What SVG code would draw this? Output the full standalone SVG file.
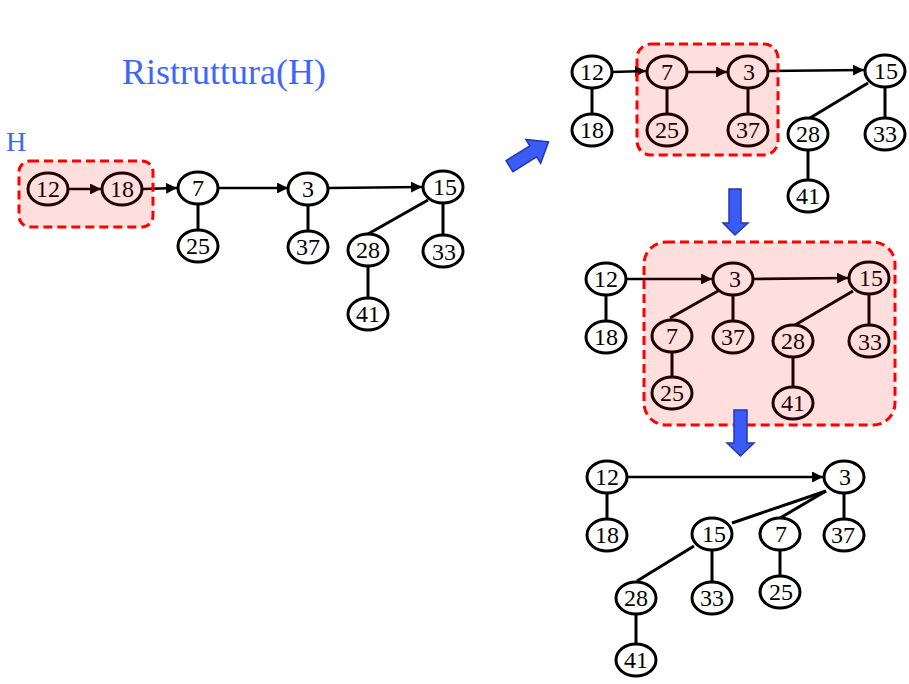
<svg xmlns="http://www.w3.org/2000/svg" width="909" height="684" viewBox="0 0 909 684">
<defs>
<style>
.n ellipse{fill:#fff;stroke:#000;stroke-width:3}
.n text{font-family:"Liberation Serif","Times New Roman",serif;font-size:24px;text-anchor:middle;fill:#000}
.e{stroke:#000;stroke-width:3;fill:none}
.a{stroke:#000;stroke-width:2.6;fill:none;marker-end:url(#ah)}
.box{fill:#ff0000;fill-opacity:0.13;stroke:#ff0000;stroke-width:3;stroke-dasharray:9 5}
.big{fill:#3a5cf5;stroke:#2636b0;stroke-width:1.5;stroke-linejoin:miter}
.lbl{font-family:"Liberation Serif","Times New Roman",serif;fill:#3d66ff}
</style>
<marker id="ah" viewBox="0 0 10 10" refX="10" refY="5" markerWidth="4.2" markerHeight="4.2" orient="auto" markerUnits="strokeWidth">
<path d="M0,0 L10,5 L0,10 z" fill="#000"/>
</marker>
</defs>
<rect width="909" height="684" fill="#fff"/>
<text class="lbl" x="224" y="84" font-size="36" text-anchor="middle">Ristruttura(H)</text>
<text class="lbl" x="6" y="151" font-size="28">H</text>

<g id="connectors">
<!-- panel 1 -->
<line class="a" x1="68" y1="189" x2="101" y2="189"/>
<line class="a" x1="142" y1="189" x2="177" y2="188"/>
<line class="a" x1="218" y1="188" x2="288" y2="188"/>
<line class="a" x1="329" y1="188" x2="422" y2="187"/>
<line class="e" x1="198" y1="204" x2="198" y2="230"/>
<line class="e" x1="308" y1="205" x2="308" y2="231"/>
<line class="e" x1="443" y1="203" x2="443" y2="235"/>
<line class="e" x1="428" y1="200" x2="368" y2="234"/>
<line class="e" x1="368" y1="267" x2="368" y2="298"/>
<!-- panel 2 -->
<line class="a" x1="612" y1="72" x2="646" y2="71"/>
<line class="a" x1="687" y1="72" x2="727" y2="72"/>
<line class="a" x1="768" y1="71" x2="864" y2="70"/>
<line class="e" x1="592" y1="88" x2="592" y2="114"/>
<line class="e" x1="667" y1="88" x2="667" y2="114"/>
<line class="e" x1="748" y1="88" x2="748" y2="114"/>
<line class="e" x1="885" y1="87" x2="885" y2="118"/>
<line class="e" x1="868" y1="83" x2="810" y2="118"/>
<line class="e" x1="808" y1="150" x2="808" y2="180"/>
<!-- panel 3 -->
<line class="a" x1="626" y1="279" x2="712" y2="279"/>
<line class="a" x1="754" y1="279" x2="848" y2="278"/>
<line class="e" x1="606" y1="295" x2="606" y2="321"/>
<line class="e" x1="718" y1="291" x2="670" y2="318"/>
<line class="e" x1="733" y1="295" x2="733" y2="321"/>
<line class="e" x1="853" y1="291" x2="795" y2="325"/>
<line class="e" x1="869" y1="294" x2="869" y2="325"/>
<line class="e" x1="672" y1="352" x2="672" y2="377"/>
<line class="e" x1="793" y1="357" x2="793" y2="387"/>
<!-- panel 4 -->
<line class="a" x1="627" y1="477" x2="823" y2="477"/>
<line class="e" x1="607" y1="493" x2="607" y2="519"/>
<line class="e" x1="826" y1="491" x2="732" y2="523"/>
<line class="e" x1="826" y1="491" x2="780" y2="518"/>
<line class="e" x1="844" y1="493" x2="844" y2="519"/>
<line class="e" x1="780" y1="550" x2="780" y2="576"/>
<line class="e" x1="694" y1="546" x2="637" y2="581"/>
<line class="e" x1="712" y1="550" x2="712" y2="582"/>
<line class="e" x1="636" y1="614" x2="636" y2="644"/>
</g>

<!-- panel 1 nodes -->
<g id="p1-12" class="n"><ellipse cx="48" cy="189" rx="20" ry="16"/><text x="48" y="197">12</text></g>
<g id="p1-18" class="n"><ellipse cx="122" cy="189" rx="20" ry="16"/><text x="122" y="197">18</text></g>
<g id="p1-7" class="n"><ellipse cx="198" cy="188" rx="20" ry="16"/><text x="198" y="196">7</text></g>
<g id="p1-3" class="n"><ellipse cx="308" cy="189" rx="20" ry="16"/><text x="308" y="197">3</text></g>
<g id="p1-15" class="n"><ellipse cx="443" cy="187" rx="20" ry="16"/><text x="445" y="195">15</text></g>
<g id="p1-25" class="n"><ellipse cx="198" cy="246" rx="20" ry="16"/><text x="198" y="254">25</text></g>
<g id="p1-37" class="n"><ellipse cx="308" cy="247" rx="20" ry="16"/><text x="308" y="255">37</text></g>
<g id="p1-28" class="n"><ellipse cx="368" cy="250" rx="20" ry="16"/><text x="368" y="258">28</text></g>
<g id="p1-33" class="n"><ellipse cx="443" cy="251" rx="20" ry="16"/><text x="444" y="260">33</text></g>
<g id="p1-41" class="n"><ellipse cx="368" cy="314" rx="20" ry="16"/><text x="368" y="322">41</text></g>

<!-- panel 2 nodes -->
<g id="p2-12" class="n"><ellipse cx="592" cy="72" rx="20" ry="16"/><text x="592" y="80">12</text></g>
<g id="p2-18" class="n"><ellipse cx="592" cy="130" rx="20" ry="16"/><text x="592" y="138">18</text></g>
<g id="p2-7" class="n"><ellipse cx="667" cy="72" rx="20" ry="16"/><text x="667" y="80">7</text></g>
<g id="p2-3" class="n"><ellipse cx="748" cy="72" rx="20" ry="16"/><text x="749" y="80">3</text></g>
<g id="p2-25" class="n"><ellipse cx="667" cy="130" rx="20" ry="16"/><text x="667" y="138">25</text></g>
<g id="p2-37" class="n"><ellipse cx="748" cy="130" rx="20" ry="16"/><text x="748" y="138">37</text></g>
<g id="p2-15" class="n"><ellipse cx="885" cy="71" rx="20" ry="16"/><text x="886" y="79">15</text></g>
<g id="p2-28" class="n"><ellipse cx="808" cy="134" rx="20" ry="16"/><text x="808" y="142">28</text></g>
<g id="p2-33" class="n"><ellipse cx="885" cy="134" rx="20" ry="16"/><text x="885" y="142">33</text></g>
<g id="p2-41" class="n"><ellipse cx="808" cy="196" rx="20" ry="16"/><text x="808" y="204">41</text></g>

<!-- panel 3 nodes -->
<g id="p3-12" class="n"><ellipse cx="606" cy="279" rx="20" ry="16"/><text x="606" y="287">12</text></g>
<g id="p3-18" class="n"><ellipse cx="606" cy="337" rx="20" ry="16"/><text x="606" y="345">18</text></g>
<g id="p3-3" class="n"><ellipse cx="733" cy="279" rx="20" ry="16"/><text x="735" y="287">3</text></g>
<g id="p3-15" class="n"><ellipse cx="869" cy="278" rx="20" ry="16"/><text x="871" y="286">15</text></g>
<g id="p3-7" class="n"><ellipse cx="672" cy="336" rx="20" ry="16"/><text x="672" y="344">7</text></g>
<g id="p3-37" class="n"><ellipse cx="733" cy="337" rx="20" ry="16"/><text x="733" y="345">37</text></g>
<g id="p3-28" class="n"><ellipse cx="793" cy="341" rx="20" ry="16"/><text x="793" y="349">28</text></g>
<g id="p3-33" class="n"><ellipse cx="869" cy="341" rx="20" ry="16"/><text x="870" y="350">33</text></g>
<g id="p3-25" class="n"><ellipse cx="672" cy="393" rx="20" ry="16"/><text x="672" y="401">25</text></g>
<g id="p3-41" class="n"><ellipse cx="793" cy="403" rx="20" ry="16"/><text x="793" y="411">41</text></g>

<!-- panel 4 nodes -->
<g id="p4-12" class="n"><ellipse cx="607" cy="477" rx="20" ry="16"/><text x="607" y="485">12</text></g>
<g id="p4-18" class="n"><ellipse cx="607" cy="535" rx="20" ry="16"/><text x="607" y="543">18</text></g>
<g id="p4-3" class="n"><ellipse cx="844" cy="477" rx="20" ry="16"/><text x="845" y="485">3</text></g>
<g id="p4-37" class="n"><ellipse cx="844" cy="535" rx="20" ry="16"/><text x="843" y="543">37</text></g>
<g id="p4-15" class="n"><ellipse cx="712" cy="534" rx="20" ry="16"/><text x="714" y="542">15</text></g>
<g id="p4-7" class="n"><ellipse cx="780" cy="534" rx="20" ry="16"/><text x="781" y="542">7</text></g>
<g id="p4-25" class="n"><ellipse cx="780" cy="592" rx="20" ry="16"/><text x="781" y="600">25</text></g>
<g id="p4-28" class="n"><ellipse cx="636" cy="598" rx="20" ry="16"/><text x="636" y="606">28</text></g>
<g id="p4-33" class="n"><ellipse cx="712" cy="598" rx="20" ry="16"/><text x="712" y="606">33</text></g>
<g id="p4-41" class="n"><ellipse cx="636" cy="660" rx="20" ry="16"/><text x="636" y="668">41</text></g>

<!-- highlight boxes -->
<rect class="box" x="19" y="161" width="134" height="66" rx="11"/>
<rect class="box" x="637" y="44" width="141" height="111" rx="14"/>
<rect class="box" x="644" y="242" width="251" height="183" rx="22"/>

<!-- block arrows -->
<polygon class="big" transform="translate(529,154) rotate(-32)" points="-23,-6.5 5,-6.5 5,-14 23,0 5,14 5,6.5 -23,6.5"/>
<polygon class="big" points="729,189 741,189 741,223 748,223 735,235 723,223 729,223"/>
<polygon class="big" points="734,410 747,410 747,443 754,443 740.5,456 727,443 734,443"/>
</svg>
